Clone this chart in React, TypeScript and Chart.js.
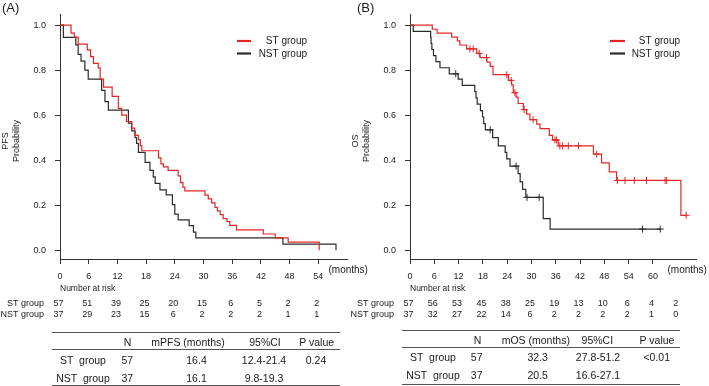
import React, { useEffect, useRef } from "react";
import { Chart, registerables } from "chart.js";

Chart.register(...registerables);

const FONT = "'Liberation Sans', Arial, Helvetica, sans-serif";
const RED = "rgb(228,38,38)";
const BLACK = "#2a2a2a";
const AXIS = "#333";
const TEXT = "#1a1a1a";

// ---------- Panel A: PFS ----------
const pfsStTimes = [0, 2.3, 3.0, 3.8, 5.7, 6.4, 7.0, 8.0, 8.4, 9.1, 10.9, 12.2, 12.9, 13.9, 15.0, 15.6, 16.4, 16.8, 17.1, 20.6, 21.1, 21.6, 22.6, 24.7, 25.2, 25.7, 26.1, 30.3, 31.0, 31.7, 32.4, 32.9, 33.5, 34.1, 34.9, 35.5, 36.9, 42.5, 45.0, 47.7, 54.2];
const pfsStSurv = [1, 0.965, 0.947, 0.916, 0.89, 0.86, 0.83, 0.81, 0.76, 0.725, 0.684, 0.63, 0.6, 0.572, 0.543, 0.51, 0.49, 0.465, 0.442, 0.41, 0.384, 0.37, 0.355, 0.33, 0.3, 0.28, 0.264, 0.245, 0.228, 0.21, 0.19, 0.175, 0.158, 0.14, 0.127, 0.11, 0.09, 0.072, 0.055, 0.036, 0];
const pfsNstTimes = [0, 0.7, 3.3, 3.8, 4.4, 5.2, 5.9, 8.7, 9.4, 10.1, 14.3, 15.0, 15.7, 16.0, 16.4, 17.8, 18.8, 19.5, 19.9, 20.9, 22.2, 23.5, 24.0, 24.7, 27.0, 27.9, 28.4, 46.6, 57.7];
const pfsNstSurv = [1, 0.946, 0.913, 0.87, 0.84, 0.8, 0.76, 0.71, 0.66, 0.623, 0.565, 0.53, 0.5, 0.475, 0.435, 0.39, 0.355, 0.326, 0.297, 0.268, 0.246, 0.203, 0.16, 0.135, 0.109, 0.08, 0.055, 0.027, 0];
const pfsStCensor: number[] = [];
const pfsNstCensor: number[] = [];
const pfsXTicks = [0, 6, 12, 18, 24, 30, 36, 42, 48, 54];
const pfsRiskTimes = [0, 6, 12, 18, 24, 30, 36, 42, 48, 54];
const pfsRiskSt = [57, 51, 39, 25, 20, 15, 6, 5, 2, 2];
const pfsRiskNst = [37, 29, 23, 15, 6, 2, 2, 2, 1, 1];

// ---------- Panel B: OS ----------
const osStTimes = [0, 5.5, 6.7, 10.3, 11.7, 12.3, 14.0, 16.5, 17.3, 19.0, 19.8, 20.5, 24.3, 25.1, 25.5, 26.2, 26.7, 28.0, 28.8, 29.6, 31.3, 32.1, 34.4, 35.2, 36.6, 45.3, 47.3, 49.2, 51.0, 66.9, 68.2];
const osStSurv = [1, 0.982, 0.965, 0.947, 0.93, 0.912, 0.895, 0.875, 0.856, 0.836, 0.817, 0.78, 0.755, 0.735, 0.7, 0.68, 0.652, 0.625, 0.605, 0.58, 0.56, 0.54, 0.51, 0.49, 0.464, 0.427, 0.388, 0.348, 0.31, 0.155, 0.155];
const osStCensor = [14.8, 15.6, 17.1, 18.9, 23.9, 25.0, 25.9, 28.2, 30.4, 35.8, 36.2, 37.0, 37.7, 39.1, 41.6, 46.1, 51.2, 53.1, 55.4, 58.4, 63.0, 63.4, 68.2];
const osNstTimes = [0, 0.8, 5.1, 5.2, 5.4, 5.8, 6.4, 7.4, 9.7, 11.9, 12.9, 16.0, 16.3, 16.6, 17.4, 17.9, 18.2, 18.6, 20.4, 21.8, 23.5, 23.9, 24.7, 26.7, 27.2, 27.8, 28.6, 32.9, 34.6, 61.8];
const osNstSurv = [1, 0.973, 0.946, 0.919, 0.892, 0.865, 0.838, 0.811, 0.784, 0.76, 0.733, 0.705, 0.677, 0.649, 0.62, 0.592, 0.563, 0.535, 0.5, 0.464, 0.435, 0.406, 0.374, 0.34, 0.304, 0.27, 0.235, 0.14, 0.094, 0.094];
const osNstCensor = [11.3, 19.8, 26.2, 28.9, 31.9, 57.4, 61.8];
const osXTicks = [0, 6, 12, 18, 24, 30, 36, 42, 48, 54, 60];
const osRiskTimes = [0, 6, 12, 18, 24, 30, 36, 42, 48, 54, 60, 66];
const osRiskSt = [57, 56, 53, 45, 38, 25, 19, 13, 10, 6, 4, 2];
const osRiskNst = [37, 32, 27, 22, 14, 6, 2, 2, 2, 2, 1, 0];

const yTicks = [0, 0.2, 0.4, 0.6, 0.8, 1.0];
const groupLabels = ["ST group", "NST group"];

const statsHeaderPfs = ["", "N", "mPFS (months)", "95%CI", "P value"];
const statsRowsPfs = [
  ["ST group", "57", "16.4", "12.4-21.4", "0.24"],
  ["NST group", "37", "16.1", "9.8-19.3", ""],
];
const statsHeaderOs = ["", "N", "mOS (months)", "95%CI", "P value"];
const statsRowsOs = [
  ["ST group", "57", "32.3", "27.8-51.2", "<0.01"],
  ["NST group", "37", "20.5", "16.6-27.1", ""],
];

function survAt(times: number[], surv: number[], t: number) {
  let s = surv[0];
  for (let i = 0; i < times.length; i++) if (times[i] <= t) s = surv[i];
  return s;
}

type Panel = {
  stTimes: number[]; stSurv: number[]; stCensor: number[];
  nstTimes: number[]; nstSurv: number[]; nstCensor: number[];
  xTicks: number[]; xMax: number;
  riskTimes: number[]; riskSt: number[]; riskNst: number[];
  yTitle: string[];
  width: number; padRight: number;
  legendLineX: [number, number]; legendTextRight: number;
  monthsX: number;
};

const H = 386;

function makeKmPlugin(p: Panel) {
  return {
    id: "kmExtras",
    afterDraw(chart: any) {
      const { ctx, chartArea, scales } = chart;
      const xs = scales.x;
      ctx.save();
      ctx.fillStyle = TEXT;
      // y axis title (two lines)
      ctx.font = `9px ${FONT}`;
      ctx.textAlign = "center";
      ctx.textBaseline = "middle";
      p.yTitle.forEach((line, i) => {
        ctx.save();
        ctx.translate(6 + i * 11, 141);
        ctx.rotate(-Math.PI / 2);
        ctx.fillText(line, 0, 0);
        ctx.restore();
      });
      // legend
      ctx.font = `10px ${FONT}`;
      ctx.textAlign = "right";
      const legendYs = [41, 53.5];
      [0, 1].forEach((i) => {
        const ds = chart.data.datasets[i];
        ctx.strokeStyle = ds.borderColor;
        ctx.lineWidth = 2.2;
        ctx.beginPath();
        ctx.moveTo(p.legendLineX[0], legendYs[i]);
        ctx.lineTo(p.legendLineX[1], legendYs[i]);
        ctx.stroke();
        ctx.fillStyle = TEXT;
        ctx.fillText(ds.label, p.legendTextRight, legendYs[i] + 0.5);
      });
      // (months)
      ctx.textAlign = "left";
      ctx.font = `10px ${FONT}`;
      ctx.fillText("(months)", p.monthsX, 270.5);
      // number at risk
      ctx.font = `8.5px ${FONT}`;
      ctx.fillText("Number at risk", chartArea.left, 288.5);
      ctx.font = `9px ${FONT}`;
      ctx.textAlign = "right";
      ctx.fillText(groupLabels[0], 44, 304);
      ctx.fillText(groupLabels[1], 44, 314.5);
      ctx.textAlign = "center";
      p.riskTimes.forEach((t, i) => {
        const px = xs.getPixelForValue(t) - 1.5;
        ctx.fillText(String(p.riskSt[i]), px, 304);
        ctx.fillText(String(p.riskNst[i]), px, 314.5);
      });
      ctx.restore();
    },
  };
}

function makeConfig(p: Panel): any {
  const pts = (ts: number[], ss: number[]) => ts.map((t, i) => ({ x: t, y: ss[i] }));
  const cens = (cs: number[], ts: number[], ss: number[]) => cs.map((t) => ({ x: t, y: survAt(ts, ss, t) }));
  const axisCommon = {
    grid: { drawOnChartArea: false, drawTicks: true, tickLength: 5, color: AXIS, lineWidth: 1 },
    border: { display: true, color: AXIS, width: 1 },
  };
  return {
    type: "line",
    data: {
      datasets: [
        { label: groupLabels[0], data: pts(p.stTimes, p.stSurv), borderColor: RED, borderWidth: 1.2, stepped: true, pointRadius: 0, fill: false },
        { label: groupLabels[1], data: pts(p.nstTimes, p.nstSurv), borderColor: BLACK, borderWidth: 1.2, stepped: true, pointRadius: 0, fill: false },
        { label: "ST censored", data: cens(p.stCensor, p.stTimes, p.stSurv), showLine: false, pointStyle: "cross", pointRadius: 3.5, borderColor: RED, backgroundColor: RED, pointBorderWidth: 1 },
        { label: "NST censored", data: cens(p.nstCensor, p.nstTimes, p.nstSurv), showLine: false, pointStyle: "cross", pointRadius: 3.5, borderColor: BLACK, backgroundColor: BLACK, pointBorderWidth: 1 },
      ],
    },
    options: {
      responsive: false,
      animation: false,
      layout: { padding: { left: 0, top: 9, right: p.padRight, bottom: H - 259 - 30 } },
      plugins: { legend: { display: false }, tooltip: { enabled: false } },
      scales: {
        x: {
          type: "linear",
          min: 0,
          max: p.xMax,
          ...axisCommon,
          afterFit: (s: any) => { s.height = 30; },
          afterBuildTicks: (s: any) => { s.ticks = p.xTicks.map((v) => ({ value: v })); },
          ticks: { padding: 7, font: { family: FONT, size: 9 }, color: TEXT, maxRotation: 0, autoSkip: false },
        },
        y: {
          type: "linear",
          min: -0.039,
          max: 1.048,
          ...axisCommon,
          afterFit: (s: any) => { s.width = 60; },
          afterBuildTicks: (s: any) => { s.ticks = yTicks.map((v) => ({ value: v })); },
          ticks: { padding: 9, font: { family: FONT, size: 9 }, color: TEXT, callback: (v: any) => Number(v).toFixed(1) },
        },
      },
    },
    plugins: [makeKmPlugin(p)],
  };
}

const panelA: Panel = {
  stTimes: pfsStTimes, stSurv: pfsStSurv, stCensor: pfsStCensor,
  nstTimes: pfsNstTimes, nstSurv: pfsNstSurv, nstCensor: pfsNstCensor,
  xTicks: pfsXTicks, xMax: 60,
  riskTimes: pfsRiskTimes, riskSt: pfsRiskSt, riskNst: pfsRiskNst,
  yTitle: ["PFS", "Probability"],
  width: 372, padRight: 25,
  legendLineX: [237, 251], legendTextRight: 307,
  monthsX: 328.5,
};

const panelB: Panel = {
  stTimes: osStTimes, stSurv: osStSurv, stCensor: osStCensor,
  nstTimes: osNstTimes, nstSurv: osNstSurv, nstCensor: osNstCensor,
  xTicks: osXTicks, xMax: 70.8,
  riskTimes: osRiskTimes, riskSt: osRiskSt, riskNst: osRiskNst,
  yTitle: ["OS", "Probability"],
  width: 359, padRight: 12.3,
  legendLineX: [260, 275], legendTextRight: 330,
  monthsX: 317.5,
};

function KmChart({ panel, left }: { panel: Panel; left: number }) {
  const ref = useRef<HTMLCanvasElement | null>(null);
  useEffect(() => {
    if (!ref.current) return;
    const chart = new Chart(ref.current, makeConfig(panel));
    return () => chart.destroy();
  }, [panel]);
  return (
    <canvas
      ref={ref}
      width={panel.width}
      height={H}
      style={{ position: "absolute", left, top: 0, width: panel.width, height: H }}
    />
  );
}

type TableLayout = {
  x1: number; x2: number; lineYs: number[]; headerY: number; rowYs: number[];
  headerCx: number[]; valueCx: number[];
};

function StatsTable({ header, rows, lay }: { header: string[]; rows: string[][]; lay: TableLayout }) {
  const txt = (s: string, cx: number, cy: number, key: string) => (
    <span
      key={key}
      style={{
        position: "absolute", left: cx, top: cy, transform: "translate(-50%,-50%)",
        whiteSpace: "pre", fontSize: 10.5, lineHeight: 1, color: TEXT, fontFamily: FONT,
      }}
    >
      {s}
    </span>
  );
  return (
    <>
      {lay.lineYs.map((y, i) => (
        <div key={"l" + i} style={{ position: "absolute", left: lay.x1, top: Math.round(y - 0.5), width: lay.x2 - lay.x1, height: 1, background: "#555" }} />
      ))}
      {header.map((h, i) => (h ? txt(h, lay.headerCx[i], lay.headerY, "h" + i) : null))}
      {rows.map((r, ri) => r.map((c, ci) => (c ? txt(ci === 0 ? c.replace(" ", "  ") : c, lay.valueCx[ci], lay.rowYs[ri], `r${ri}c${ci}`) : null)))}
    </>
  );
}

const tableLayA: TableLayout = {
  x1: 52, x2: 340, lineYs: [332, 349, 385.5], headerY: 341.5, rowYs: [360, 377.5],
  headerCx: [0, 127.5, 188, 265, 316.7], valueCx: [83, 127.3, 196.5, 264, 316],
};
const tableLayB: TableLayout = {
  x1: 401.7, x2: 680, lineYs: [330.7, 347.5, 384.5], headerY: 339.5, rowYs: [357, 375],
  headerCx: [0, 477.5, 535.8, 597.3, 657], valueCx: [433, 476.7, 537.7, 598, 656.7],
};

export default function App() {
  return (
    <div style={{ position: "absolute", left: 0, top: 0, width: 709, height: H, background: "#fff", overflow: "hidden", fontFamily: FONT }}>
      <KmChart panel={panelA} left={0} />
      <KmChart panel={panelB} left={350} />
      <span style={{ position: "absolute", left: 2, top: 1, fontSize: 13, lineHeight: "14px", color: TEXT }}>(A)</span>
      <span style={{ position: "absolute", left: 357, top: 1, fontSize: 13, lineHeight: "14px", color: TEXT }}>(B)</span>
      <StatsTable header={statsHeaderPfs} rows={statsRowsPfs} lay={tableLayA} />
      <StatsTable header={statsHeaderOs} rows={statsRowsOs} lay={tableLayB} />
    </div>
  );
}
